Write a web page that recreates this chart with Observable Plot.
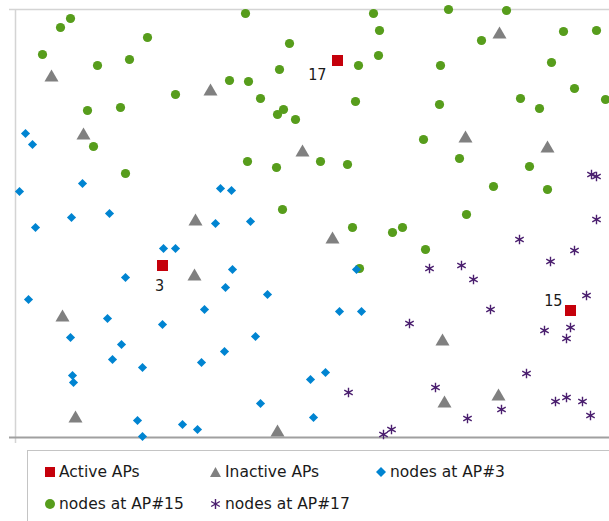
<!DOCTYPE html>
<html>
<head>
<meta charset="utf-8">
<script src="https://cdn.jsdelivr.net/npm/d3@7"></script>
<script src="https://cdn.jsdelivr.net/npm/@observablehq/plot@0.6"></script>
<style>
  html, body { margin: 0; padding: 0; background: #fff; overflow: hidden; }
  body { width: 609px; height: 521px; position: relative; font-family: "DejaVu Sans", sans-serif; }
  #chart svg { display: block; }
  #legend { position: absolute; left: 27px; top: 450px; width: 640px; height: 100px;
            border-top: 1px solid #c4c4c4; border-left: 1px solid #c4c4c4; }
  .item { position: absolute; display: flex; align-items: center; font-size: 15.5px; color: #1a1a1a; white-space: nowrap; }
  .item svg { margin-right: 4px; overflow: visible; }
</style>
</head>
<body>
<div id="chart"></div>
<div id="legend"></div>
<script>
// Frame (data units): x from left axis to right edge, y from bottom axis to top line
const xFrame = [15, 609];
const yFrame = [437, 9];

// Series names and colours
const seriesNames = ["Active APs", "Inactive APs", "nodes at AP#3", "nodes at AP#15", "nodes at AP#17"];
const seriesColors = ["#c5000b", "#808080", "#0084d1", "#579d1c", "#4b1f6f"];

// Active APs
const activeX = [337, 162, 570];
const activeY = [60, 265, 310];
const activeLabel = ["17", "3", "15"];

// Inactive APs
const inactiveX = [51, 83, 195, 210, 302, 499, 465, 547, 194, 62, 75, 332, 277, 442, 444, 498];
const inactiveY = [77, 135, 221, 91, 152, 34, 138, 148, 276, 317, 418, 239, 432, 341, 403, 396];

// nodes at AP#3
const node3X = [25, 32, 82, 19, 220, 231, 71, 109, 35, 215, 250, 163, 175, 125, 232, 28, 225, 267, 107, 162, 204,
                70, 121, 255, 112, 224, 142, 201, 72, 73, 356, 339, 361, 310, 325, 260, 137, 182, 197, 313, 142];
const node3Y = [133, 144, 183, 191, 188, 190, 217, 213, 227, 223, 221, 248, 248, 277, 269, 299, 287, 294, 318, 324, 309,
                337, 344, 336, 359, 351, 367, 362, 375, 382, 269, 311, 311, 379, 372, 403, 420, 424, 429, 417, 436];

// nodes at AP#15
const node15X = [70, 60, 42, 97, 129, 147, 175, 87, 120, 93, 125,
                 245, 289, 229, 248, 279, 260, 283, 277, 295, 247, 276, 320, 347, 282,
                 373, 379, 378, 358, 355, 352, 392, 402, 359,
                 448, 506, 481, 563, 596, 440, 551, 439, 520, 539, 574, 605, 423, 459, 529, 493, 547, 466, 425];
const node15Y = [18, 27, 54, 65, 59, 37, 94, 110, 107, 146, 173,
                 13, 43, 80, 81, 69, 98, 109, 114, 119, 161, 167, 161, 164, 209,
                 13, 30, 55, 65, 101, 227, 232, 227, 268,
                 9, 10, 40, 31, 30, 65, 62, 104, 98, 108, 88, 99, 139, 158, 166, 186, 189, 214, 249];

// nodes at AP#17
const node17X = [591, 596, 596, 519, 574, 550, 429, 461, 473, 586, 490, 409, 544, 570, 566, 526, 435, 555, 566, 582, 590, 501, 467, 348, 391, 383];
const node17Y = [174, 176, 219, 239, 250, 261, 268, 265, 279, 295, 309, 323, 330, 327, 338, 373, 387, 401, 397, 401, 415, 409, 418, 392, 429, 434];

const zip = (xs, ys, extra) => xs.map((x, i) => ({x, y: ys[i], ...(extra ? {label: extra[i]} : {})}));
const active = zip(activeX, activeY, activeLabel);
const inactive = zip(inactiveX, inactiveY);
const nodes3 = zip(node3X, node3Y);
const nodes15 = zip(node15X, node15Y);
const nodes17 = zip(node17X, node17Y);

const labelFont = {fontSize: 16, fontFamily: "DejaVu Sans Condensed, DejaVu Sans, sans-serif", fill: "#1a1a1a"};

const chart = Plot.plot({
  width: 609,
  height: 450,
  marginLeft: 15,
  marginRight: 0,
  marginTop: 9,
  marginBottom: 13,
  x: {domain: xFrame, axis: null},
  y: {domain: yFrame, axis: null},
  marks: [
    Plot.ruleY([yFrame[1]], {stroke: "#d4d4d4", strokeWidth: 1.5, insetLeft: -6}),
    Plot.ruleX([xFrame[0]], {stroke: "#d4d4d4", strokeWidth: 1.5, insetBottom: -6}),
    Plot.ruleY([yFrame[0]], {stroke: "#a0a0a0", strokeWidth: 2, insetLeft: -6}),
    Plot.dot(nodes15, {x: "x", y: "y", symbol: "circle", r: 4.6, fill: seriesColors[3], stroke: "none"}),
    Plot.dot(nodes3, {x: "x", y: "y", symbol: "diamond2", r: 4.1, fill: seriesColors[2], stroke: "none"}),
    Plot.dot(nodes17, {x: "x", y: "y", symbol: "asterisk", r: 4.6, stroke: seriesColors[4], strokeWidth: 1.4, fill: "none"}),
    Plot.dot(inactive, {x: "x", y: "y", symbol: "triangle", r: 5.2, fill: seriesColors[1], stroke: "none"}),
    Plot.dot(active, {x: "x", y: "y", symbol: "square", r: 6.2, fill: seriesColors[0], stroke: "none"}),
    Plot.text(active.filter(d => d.label === "17"), {x: "x", y: "y", text: "label", textAnchor: "end", dx: -11, dy: 14.5, ...labelFont}),
    Plot.text(active.filter(d => d.label === "3"), {x: "x", y: "y", text: "label", textAnchor: "middle", dx: -3, dy: 20, ...labelFont}),
    Plot.text(active.filter(d => d.label === "15"), {x: "x", y: "y", text: "label", textAnchor: "end", dx: -8, dy: -9.5, ...labelFont})
  ]
});
document.getElementById("chart").appendChild(chart);

// Legend
const symbolSvg = [
  `<svg width="10" height="10" viewBox="-5 -5 10 10"><rect x="-5" y="-5" width="10" height="10" fill="${seriesColors[0]}"/></svg>`,
  `<svg width="11" height="10" viewBox="-5.5 -5 11 10"><path d="M0,-5L5.5,5L-5.5,5Z" fill="${seriesColors[1]}"/></svg>`,
  `<svg width="10" height="10" viewBox="-5 -5 10 10"><path d="M0,-5L5,0L0,5L-5,0Z" fill="${seriesColors[2]}"/></svg>`,
  `<svg width="10" height="10" viewBox="-5 -5 10 10"><circle r="5" fill="${seriesColors[3]}"/></svg>`,
  `<svg width="11" height="10" viewBox="-5.5 -5 11 10"><path d="M0,-5V5M-4.33,-2.5L4.33,2.5M-4.33,2.5L4.33,-2.5" stroke="${seriesColors[4]}" stroke-width="1.4" fill="none"/></svg>`
];
const legendPos = [[17, 21], [182, 21], [348, 21], [17, 53], [182, 53]];
const legend = document.getElementById("legend");
seriesNames.forEach((name, i) => {
  const el = document.createElement("div");
  el.className = "item";
  el.style.left = legendPos[i][0] + "px";
  el.style.top = (legendPos[i][1] - 10) + "px";
  el.style.height = "20px";
  el.innerHTML = symbolSvg[i] + `<span>${name}</span>`;
  legend.appendChild(el);
});
</script>
</body>
</html>
